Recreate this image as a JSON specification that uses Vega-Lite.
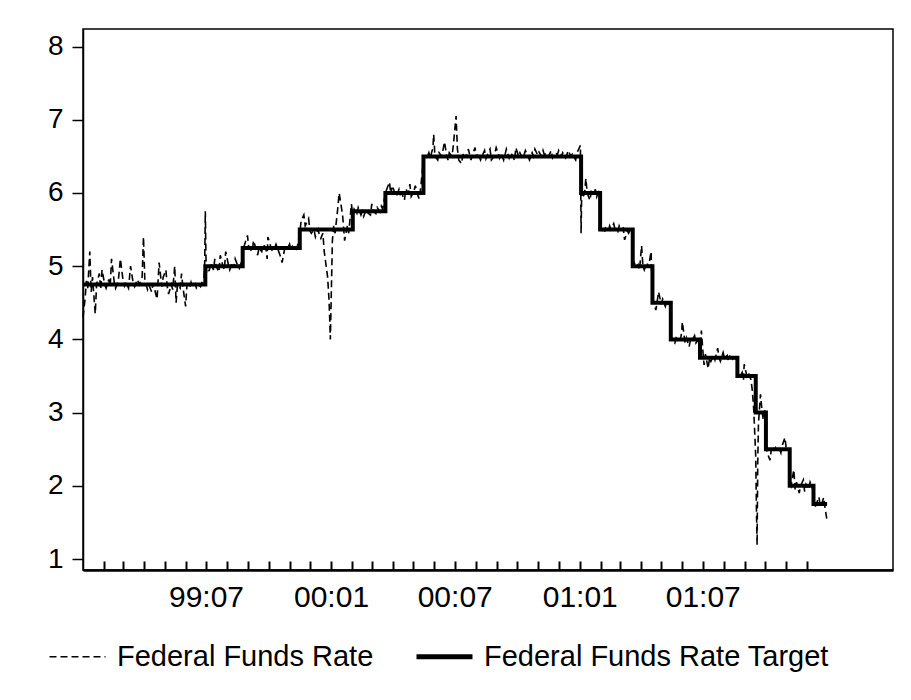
{
  "$schema": "https://vega.github.io/schema/vega-lite/v6.json",
  "autosize": {"type": "none"},
  "padding": {"left": 83, "top": 29, "right": 18, "bottom": 130},
  "width": 810,
  "height": 541,
  "background": "white",
  "config": {
    "font": "Liberation Sans",
    "view": {"stroke": "black", "strokeWidth": 1.5},
    "axis": {"grid": false, "title": null, "labelColor": "black", "domainColor": "black", "tickColor": "black", "labelFont": "Liberation Sans"}
  },
  "datasets": {
    "ffr": [
      {"date": "1999-01-01", "rate": 4.30},
      {"date": "1999-01-04", "rate": 4.55},
      {"date": "1999-01-06", "rate": 4.80},
      {"date": "1999-01-08", "rate": 4.70},
      {"date": "1999-01-11", "rate": 5.20},
      {"date": "1999-01-13", "rate": 4.65},
      {"date": "1999-01-15", "rate": 4.85},
      {"date": "1999-01-19", "rate": 4.35},
      {"date": "1999-01-21", "rate": 4.75},
      {"date": "1999-01-25", "rate": 4.90},
      {"date": "1999-01-27", "rate": 4.68},
      {"date": "1999-01-29", "rate": 4.95},
      {"date": "1999-02-02", "rate": 4.75},
      {"date": "1999-02-04", "rate": 4.70},
      {"date": "1999-02-08", "rate": 4.82},
      {"date": "1999-02-10", "rate": 4.72},
      {"date": "1999-02-12", "rate": 5.10},
      {"date": "1999-02-16", "rate": 4.78},
      {"date": "1999-02-18", "rate": 4.70},
      {"date": "1999-02-22", "rate": 4.80},
      {"date": "1999-02-25", "rate": 5.10},
      {"date": "1999-03-01", "rate": 4.80},
      {"date": "1999-03-03", "rate": 4.73},
      {"date": "1999-03-05", "rate": 4.78},
      {"date": "1999-03-09", "rate": 4.70},
      {"date": "1999-03-12", "rate": 5.00},
      {"date": "1999-03-16", "rate": 4.76},
      {"date": "1999-03-18", "rate": 4.72},
      {"date": "1999-03-22", "rate": 4.82},
      {"date": "1999-03-25", "rate": 4.75},
      {"date": "1999-03-29", "rate": 4.85},
      {"date": "1999-03-31", "rate": 5.40},
      {"date": "1999-04-02", "rate": 4.80},
      {"date": "1999-04-06", "rate": 4.68},
      {"date": "1999-04-08", "rate": 4.74},
      {"date": "1999-04-12", "rate": 4.65},
      {"date": "1999-04-14", "rate": 4.76},
      {"date": "1999-04-16", "rate": 4.70},
      {"date": "1999-04-20", "rate": 4.55},
      {"date": "1999-04-23", "rate": 5.05},
      {"date": "1999-04-27", "rate": 4.72},
      {"date": "1999-04-29", "rate": 4.85},
      {"date": "1999-05-03", "rate": 4.95},
      {"date": "1999-05-05", "rate": 4.72},
      {"date": "1999-05-07", "rate": 4.62},
      {"date": "1999-05-11", "rate": 4.75},
      {"date": "1999-05-13", "rate": 4.68},
      {"date": "1999-05-16", "rate": 5.00},
      {"date": "1999-05-18", "rate": 4.50},
      {"date": "1999-05-20", "rate": 4.75},
      {"date": "1999-05-24", "rate": 4.70},
      {"date": "1999-05-26", "rate": 4.90},
      {"date": "1999-05-28", "rate": 4.72},
      {"date": "1999-06-01", "rate": 4.45},
      {"date": "1999-06-03", "rate": 4.75},
      {"date": "1999-06-07", "rate": 4.70},
      {"date": "1999-06-09", "rate": 4.78},
      {"date": "1999-06-11", "rate": 4.72},
      {"date": "1999-06-15", "rate": 4.76},
      {"date": "1999-06-17", "rate": 4.70},
      {"date": "1999-06-21", "rate": 4.74},
      {"date": "1999-06-23", "rate": 4.72},
      {"date": "1999-06-25", "rate": 4.78},
      {"date": "1999-06-28", "rate": 4.85},
      {"date": "1999-06-29", "rate": 4.95},
      {"date": "1999-06-30", "rate": 5.75},
      {"date": "1999-07-01", "rate": 5.10},
      {"date": "1999-07-02", "rate": 4.90},
      {"date": "1999-07-06", "rate": 4.95},
      {"date": "1999-07-08", "rate": 5.05},
      {"date": "1999-07-12", "rate": 4.95},
      {"date": "1999-07-14", "rate": 5.10},
      {"date": "1999-07-16", "rate": 5.00},
      {"date": "1999-07-20", "rate": 4.92},
      {"date": "1999-07-22", "rate": 5.15},
      {"date": "1999-07-26", "rate": 5.00},
      {"date": "1999-07-28", "rate": 4.95},
      {"date": "1999-07-30", "rate": 5.20},
      {"date": "1999-08-03", "rate": 5.02},
      {"date": "1999-08-05", "rate": 4.95},
      {"date": "1999-08-09", "rate": 5.05},
      {"date": "1999-08-11", "rate": 4.98},
      {"date": "1999-08-13", "rate": 5.10},
      {"date": "1999-08-17", "rate": 5.00},
      {"date": "1999-08-19", "rate": 4.97},
      {"date": "1999-08-23", "rate": 5.08},
      {"date": "1999-08-25", "rate": 5.25},
      {"date": "1999-08-27", "rate": 5.30},
      {"date": "1999-08-31", "rate": 5.42},
      {"date": "1999-09-02", "rate": 5.25},
      {"date": "1999-09-07", "rate": 5.20},
      {"date": "1999-09-09", "rate": 5.35},
      {"date": "1999-09-13", "rate": 5.22},
      {"date": "1999-09-15", "rate": 5.15},
      {"date": "1999-09-17", "rate": 5.25},
      {"date": "1999-09-21", "rate": 5.20},
      {"date": "1999-09-23", "rate": 5.30},
      {"date": "1999-09-27", "rate": 5.25},
      {"date": "1999-09-29", "rate": 5.10},
      {"date": "1999-09-30", "rate": 5.40},
      {"date": "1999-10-04", "rate": 5.28},
      {"date": "1999-10-06", "rate": 5.22},
      {"date": "1999-10-08", "rate": 5.20},
      {"date": "1999-10-12", "rate": 5.30},
      {"date": "1999-10-14", "rate": 5.25},
      {"date": "1999-10-18", "rate": 5.15},
      {"date": "1999-10-21", "rate": 5.05},
      {"date": "1999-10-25", "rate": 5.25},
      {"date": "1999-10-28", "rate": 5.22},
      {"date": "1999-11-01", "rate": 5.30},
      {"date": "1999-11-03", "rate": 5.22},
      {"date": "1999-11-05", "rate": 5.27},
      {"date": "1999-11-09", "rate": 5.20},
      {"date": "1999-11-12", "rate": 5.25},
      {"date": "1999-11-16", "rate": 5.45},
      {"date": "1999-11-18", "rate": 5.62},
      {"date": "1999-11-22", "rate": 5.70},
      {"date": "1999-11-24", "rate": 5.55},
      {"date": "1999-11-29", "rate": 5.65},
      {"date": "1999-12-01", "rate": 5.48},
      {"date": "1999-12-03", "rate": 5.45},
      {"date": "1999-12-07", "rate": 5.50},
      {"date": "1999-12-09", "rate": 5.40},
      {"date": "1999-12-13", "rate": 5.50},
      {"date": "1999-12-15", "rate": 5.42},
      {"date": "1999-12-17", "rate": 5.38},
      {"date": "1999-12-20", "rate": 5.45},
      {"date": "1999-12-22", "rate": 5.20},
      {"date": "1999-12-27", "rate": 4.85},
      {"date": "1999-12-29", "rate": 4.55},
      {"date": "1999-12-30", "rate": 4.30},
      {"date": "1999-12-31", "rate": 4.00},
      {"date": "2000-01-03", "rate": 5.35},
      {"date": "2000-01-05", "rate": 5.55},
      {"date": "2000-01-07", "rate": 5.45},
      {"date": "2000-01-11", "rate": 5.80},
      {"date": "2000-01-13", "rate": 6.00},
      {"date": "2000-01-18", "rate": 5.70},
      {"date": "2000-01-21", "rate": 5.35},
      {"date": "2000-01-25", "rate": 5.55},
      {"date": "2000-01-27", "rate": 5.45},
      {"date": "2000-01-31", "rate": 5.85},
      {"date": "2000-02-02", "rate": 5.70},
      {"date": "2000-02-04", "rate": 5.78},
      {"date": "2000-02-08", "rate": 5.72},
      {"date": "2000-02-10", "rate": 5.80},
      {"date": "2000-02-14", "rate": 5.70},
      {"date": "2000-02-16", "rate": 5.75},
      {"date": "2000-02-18", "rate": 5.68},
      {"date": "2000-02-22", "rate": 5.78},
      {"date": "2000-02-24", "rate": 5.73},
      {"date": "2000-02-28", "rate": 5.70},
      {"date": "2000-03-01", "rate": 5.85},
      {"date": "2000-03-03", "rate": 5.76},
      {"date": "2000-03-07", "rate": 5.72},
      {"date": "2000-03-09", "rate": 5.80},
      {"date": "2000-03-13", "rate": 5.74},
      {"date": "2000-03-15", "rate": 5.82},
      {"date": "2000-03-17", "rate": 5.78},
      {"date": "2000-03-21", "rate": 6.00},
      {"date": "2000-03-23", "rate": 6.05},
      {"date": "2000-03-27", "rate": 6.15},
      {"date": "2000-03-29", "rate": 5.98},
      {"date": "2000-03-31", "rate": 6.10},
      {"date": "2000-04-04", "rate": 6.00},
      {"date": "2000-04-06", "rate": 5.95},
      {"date": "2000-04-10", "rate": 6.05},
      {"date": "2000-04-12", "rate": 5.98},
      {"date": "2000-04-14", "rate": 6.00},
      {"date": "2000-04-18", "rate": 5.90},
      {"date": "2000-04-20", "rate": 6.05},
      {"date": "2000-04-24", "rate": 6.00},
      {"date": "2000-04-26", "rate": 6.12},
      {"date": "2000-04-28", "rate": 5.95},
      {"date": "2000-05-02", "rate": 6.02},
      {"date": "2000-05-04", "rate": 6.10},
      {"date": "2000-05-08", "rate": 5.96},
      {"date": "2000-05-10", "rate": 5.92},
      {"date": "2000-05-12", "rate": 6.08},
      {"date": "2000-05-16", "rate": 6.45},
      {"date": "2000-05-18", "rate": 6.52},
      {"date": "2000-05-22", "rate": 6.50},
      {"date": "2000-05-24", "rate": 6.55},
      {"date": "2000-05-26", "rate": 6.48},
      {"date": "2000-05-30", "rate": 6.62},
      {"date": "2000-05-31", "rate": 6.80},
      {"date": "2000-06-02", "rate": 6.50},
      {"date": "2000-06-06", "rate": 6.45},
      {"date": "2000-06-08", "rate": 6.55},
      {"date": "2000-06-12", "rate": 6.50},
      {"date": "2000-06-16", "rate": 6.70},
      {"date": "2000-06-19", "rate": 6.52},
      {"date": "2000-06-21", "rate": 6.45},
      {"date": "2000-06-23", "rate": 6.55},
      {"date": "2000-06-27", "rate": 6.50},
      {"date": "2000-06-29", "rate": 6.65},
      {"date": "2000-07-03", "rate": 7.05},
      {"date": "2000-07-05", "rate": 6.60},
      {"date": "2000-07-07", "rate": 6.45},
      {"date": "2000-07-11", "rate": 6.40},
      {"date": "2000-07-13", "rate": 6.52},
      {"date": "2000-07-17", "rate": 6.55},
      {"date": "2000-07-19", "rate": 6.48},
      {"date": "2000-07-21", "rate": 6.60},
      {"date": "2000-07-25", "rate": 6.45},
      {"date": "2000-07-27", "rate": 6.52},
      {"date": "2000-07-31", "rate": 6.62},
      {"date": "2000-08-02", "rate": 6.48},
      {"date": "2000-08-04", "rate": 6.55},
      {"date": "2000-08-08", "rate": 6.45},
      {"date": "2000-08-10", "rate": 6.50},
      {"date": "2000-08-14", "rate": 6.58},
      {"date": "2000-08-16", "rate": 6.47},
      {"date": "2000-08-18", "rate": 6.52},
      {"date": "2000-08-22", "rate": 6.60},
      {"date": "2000-08-24", "rate": 6.45},
      {"date": "2000-08-28", "rate": 6.50},
      {"date": "2000-08-31", "rate": 6.62},
      {"date": "2000-09-05", "rate": 6.48},
      {"date": "2000-09-07", "rate": 6.55},
      {"date": "2000-09-11", "rate": 6.45},
      {"date": "2000-09-13", "rate": 6.52},
      {"date": "2000-09-15", "rate": 6.60},
      {"date": "2000-09-19", "rate": 6.48},
      {"date": "2000-09-21", "rate": 6.55},
      {"date": "2000-09-25", "rate": 6.50},
      {"date": "2000-09-27", "rate": 6.44},
      {"date": "2000-09-29", "rate": 6.62},
      {"date": "2000-10-03", "rate": 6.50},
      {"date": "2000-10-05", "rate": 6.55},
      {"date": "2000-10-09", "rate": 6.47},
      {"date": "2000-10-11", "rate": 6.52},
      {"date": "2000-10-13", "rate": 6.58},
      {"date": "2000-10-17", "rate": 6.50},
      {"date": "2000-10-19", "rate": 6.45},
      {"date": "2000-10-23", "rate": 6.55},
      {"date": "2000-10-25", "rate": 6.50},
      {"date": "2000-10-27", "rate": 6.60},
      {"date": "2000-10-31", "rate": 6.52},
      {"date": "2000-11-02", "rate": 6.56},
      {"date": "2000-11-06", "rate": 6.50},
      {"date": "2000-11-08", "rate": 6.58},
      {"date": "2000-11-10", "rate": 6.52},
      {"date": "2000-11-14", "rate": 6.55},
      {"date": "2000-11-16", "rate": 6.50},
      {"date": "2000-11-20", "rate": 6.58},
      {"date": "2000-11-22", "rate": 6.48},
      {"date": "2000-11-27", "rate": 6.55},
      {"date": "2000-11-29", "rate": 6.52},
      {"date": "2000-12-01", "rate": 6.58},
      {"date": "2000-12-05", "rate": 6.50},
      {"date": "2000-12-07", "rate": 6.55},
      {"date": "2000-12-11", "rate": 6.48},
      {"date": "2000-12-13", "rate": 6.52},
      {"date": "2000-12-15", "rate": 6.58},
      {"date": "2000-12-19", "rate": 6.50},
      {"date": "2000-12-21", "rate": 6.53},
      {"date": "2000-12-26", "rate": 6.45},
      {"date": "2000-12-28", "rate": 6.55},
      {"date": "2001-01-02", "rate": 6.65},
      {"date": "2001-01-03", "rate": 5.45},
      {"date": "2001-01-04", "rate": 6.10},
      {"date": "2001-01-05", "rate": 5.95},
      {"date": "2001-01-08", "rate": 5.98},
      {"date": "2001-01-10", "rate": 6.20},
      {"date": "2001-01-12", "rate": 6.00},
      {"date": "2001-01-16", "rate": 5.90},
      {"date": "2001-01-18", "rate": 6.02},
      {"date": "2001-01-22", "rate": 5.98},
      {"date": "2001-01-24", "rate": 6.05},
      {"date": "2001-01-26", "rate": 5.95},
      {"date": "2001-01-30", "rate": 6.05},
      {"date": "2001-01-31", "rate": 5.55},
      {"date": "2001-02-02", "rate": 5.50},
      {"date": "2001-02-06", "rate": 5.45},
      {"date": "2001-02-08", "rate": 5.52},
      {"date": "2001-02-12", "rate": 5.48},
      {"date": "2001-02-14", "rate": 5.55},
      {"date": "2001-02-16", "rate": 5.50},
      {"date": "2001-02-20", "rate": 5.58},
      {"date": "2001-02-22", "rate": 5.50},
      {"date": "2001-02-26", "rate": 5.47},
      {"date": "2001-02-28", "rate": 5.55},
      {"date": "2001-03-02", "rate": 5.50},
      {"date": "2001-03-06", "rate": 5.52},
      {"date": "2001-03-08", "rate": 5.36},
      {"date": "2001-03-12", "rate": 5.48},
      {"date": "2001-03-14", "rate": 5.45},
      {"date": "2001-03-16", "rate": 5.50},
      {"date": "2001-03-19", "rate": 5.48},
      {"date": "2001-03-20", "rate": 5.00},
      {"date": "2001-03-22", "rate": 5.05},
      {"date": "2001-03-26", "rate": 4.98},
      {"date": "2001-03-28", "rate": 5.02},
      {"date": "2001-03-30", "rate": 4.95},
      {"date": "2001-04-02", "rate": 5.28},
      {"date": "2001-04-04", "rate": 5.00},
      {"date": "2001-04-06", "rate": 4.95},
      {"date": "2001-04-10", "rate": 5.05},
      {"date": "2001-04-12", "rate": 4.98},
      {"date": "2001-04-16", "rate": 5.20},
      {"date": "2001-04-18", "rate": 4.55},
      {"date": "2001-04-20", "rate": 4.50},
      {"date": "2001-04-23", "rate": 4.40},
      {"date": "2001-04-25", "rate": 4.52},
      {"date": "2001-04-27", "rate": 4.65},
      {"date": "2001-05-01", "rate": 4.48},
      {"date": "2001-05-03", "rate": 4.55},
      {"date": "2001-05-07", "rate": 4.45},
      {"date": "2001-05-09", "rate": 4.52},
      {"date": "2001-05-11", "rate": 4.48},
      {"date": "2001-05-14", "rate": 4.50},
      {"date": "2001-05-15", "rate": 4.05},
      {"date": "2001-05-17", "rate": 4.00},
      {"date": "2001-05-21", "rate": 3.95},
      {"date": "2001-05-23", "rate": 4.02},
      {"date": "2001-05-25", "rate": 4.00},
      {"date": "2001-05-29", "rate": 3.98},
      {"date": "2001-05-31", "rate": 4.10},
      {"date": "2001-06-01", "rate": 4.24},
      {"date": "2001-06-05", "rate": 3.95},
      {"date": "2001-06-07", "rate": 4.02},
      {"date": "2001-06-11", "rate": 3.90},
      {"date": "2001-06-13", "rate": 4.00},
      {"date": "2001-06-15", "rate": 3.98},
      {"date": "2001-06-19", "rate": 4.05},
      {"date": "2001-06-21", "rate": 3.95},
      {"date": "2001-06-25", "rate": 4.00},
      {"date": "2001-06-27", "rate": 3.85},
      {"date": "2001-06-29", "rate": 4.12},
      {"date": "2001-07-02", "rate": 3.75},
      {"date": "2001-07-03", "rate": 3.65},
      {"date": "2001-07-05", "rate": 3.80},
      {"date": "2001-07-09", "rate": 3.60},
      {"date": "2001-07-11", "rate": 3.75},
      {"date": "2001-07-13", "rate": 3.70},
      {"date": "2001-07-17", "rate": 3.78},
      {"date": "2001-07-19", "rate": 3.72},
      {"date": "2001-07-23", "rate": 3.88},
      {"date": "2001-07-25", "rate": 3.75},
      {"date": "2001-07-27", "rate": 3.70},
      {"date": "2001-07-31", "rate": 3.82},
      {"date": "2001-08-02", "rate": 3.74},
      {"date": "2001-08-06", "rate": 3.78},
      {"date": "2001-08-08", "rate": 3.70},
      {"date": "2001-08-10", "rate": 3.77},
      {"date": "2001-08-14", "rate": 3.73},
      {"date": "2001-08-16", "rate": 3.76},
      {"date": "2001-08-20", "rate": 3.72},
      {"date": "2001-08-22", "rate": 3.50},
      {"date": "2001-08-24", "rate": 3.48},
      {"date": "2001-08-28", "rate": 3.55},
      {"date": "2001-08-30", "rate": 3.45},
      {"date": "2001-08-31", "rate": 3.66},
      {"date": "2001-09-04", "rate": 3.50},
      {"date": "2001-09-06", "rate": 3.55},
      {"date": "2001-09-10", "rate": 3.45},
      {"date": "2001-09-12", "rate": 3.30},
      {"date": "2001-09-14", "rate": 3.05},
      {"date": "2001-09-17", "rate": 2.40},
      {"date": "2001-09-18", "rate": 1.70},
      {"date": "2001-09-19", "rate": 1.19},
      {"date": "2001-09-20", "rate": 2.35},
      {"date": "2001-09-21", "rate": 2.85},
      {"date": "2001-09-24", "rate": 3.25},
      {"date": "2001-09-26", "rate": 3.05},
      {"date": "2001-09-28", "rate": 2.90},
      {"date": "2001-10-01", "rate": 3.05},
      {"date": "2001-10-02", "rate": 2.55},
      {"date": "2001-10-04", "rate": 2.45},
      {"date": "2001-10-08", "rate": 2.35},
      {"date": "2001-10-10", "rate": 2.50},
      {"date": "2001-10-12", "rate": 2.45},
      {"date": "2001-10-16", "rate": 2.52},
      {"date": "2001-10-18", "rate": 2.48},
      {"date": "2001-10-22", "rate": 2.50},
      {"date": "2001-10-24", "rate": 2.45},
      {"date": "2001-10-26", "rate": 2.55},
      {"date": "2001-10-30", "rate": 2.66},
      {"date": "2001-11-01", "rate": 2.50},
      {"date": "2001-11-05", "rate": 2.48},
      {"date": "2001-11-06", "rate": 2.05},
      {"date": "2001-11-08", "rate": 2.00},
      {"date": "2001-11-12", "rate": 2.22},
      {"date": "2001-11-14", "rate": 1.95},
      {"date": "2001-11-16", "rate": 2.05},
      {"date": "2001-11-20", "rate": 1.90},
      {"date": "2001-11-22", "rate": 2.00},
      {"date": "2001-11-26", "rate": 2.08},
      {"date": "2001-11-28", "rate": 1.92},
      {"date": "2001-11-30", "rate": 2.02},
      {"date": "2001-12-04", "rate": 1.95},
      {"date": "2001-12-06", "rate": 2.05},
      {"date": "2001-12-10", "rate": 1.95},
      {"date": "2001-12-11", "rate": 1.80},
      {"date": "2001-12-13", "rate": 1.70},
      {"date": "2001-12-17", "rate": 1.80},
      {"date": "2001-12-19", "rate": 1.85},
      {"date": "2001-12-21", "rate": 1.72},
      {"date": "2001-12-24", "rate": 1.78},
      {"date": "2001-12-26", "rate": 1.84},
      {"date": "2001-12-28", "rate": 1.70},
      {"date": "2001-12-31", "rate": 1.52}
    ],
    "target": [
      {"date": "1999-01-01", "rate": 4.75},
      {"date": "1999-06-30", "rate": 5.00},
      {"date": "1999-08-24", "rate": 5.25},
      {"date": "1999-11-16", "rate": 5.50},
      {"date": "2000-02-02", "rate": 5.75},
      {"date": "2000-03-21", "rate": 6.00},
      {"date": "2000-05-16", "rate": 6.50},
      {"date": "2001-01-03", "rate": 6.00},
      {"date": "2001-01-31", "rate": 5.50},
      {"date": "2001-03-20", "rate": 5.00},
      {"date": "2001-04-18", "rate": 4.50},
      {"date": "2001-05-15", "rate": 4.00},
      {"date": "2001-06-27", "rate": 3.75},
      {"date": "2001-08-21", "rate": 3.50},
      {"date": "2001-09-17", "rate": 3.00},
      {"date": "2001-10-02", "rate": 2.50},
      {"date": "2001-11-06", "rate": 2.00},
      {"date": "2001-12-11", "rate": 1.75},
      {"date": "2001-12-31", "rate": 1.75}
    ]
  },
  "encoding": {
    "x": {
      "field": "date",
      "type": "temporal",
      "scale": {"type": "utc", "domain": [{"year": 1999, "month": 1, "date": 1, "utc": true}, {"year": 2002, "month": 4, "date": 7, "utc": true}]},
      "axis": {
        "values": [
          {"year": 1999, "month": 2, "date": 1, "utc": true}, {"year": 1999, "month": 3, "date": 1, "utc": true}, {"year": 1999, "month": 4, "date": 1, "utc": true},
          {"year": 1999, "month": 5, "date": 1, "utc": true}, {"year": 1999, "month": 6, "date": 1, "utc": true}, {"year": 1999, "month": 7, "date": 1, "utc": true},
          {"year": 1999, "month": 8, "date": 1, "utc": true}, {"year": 1999, "month": 9, "date": 1, "utc": true}, {"year": 1999, "month": 10, "date": 1, "utc": true},
          {"year": 1999, "month": 11, "date": 1, "utc": true}, {"year": 1999, "month": 12, "date": 1, "utc": true}, {"year": 2000, "month": 1, "date": 1, "utc": true},
          {"year": 2000, "month": 2, "date": 1, "utc": true}, {"year": 2000, "month": 3, "date": 1, "utc": true}, {"year": 2000, "month": 4, "date": 1, "utc": true},
          {"year": 2000, "month": 5, "date": 1, "utc": true}, {"year": 2000, "month": 6, "date": 1, "utc": true}, {"year": 2000, "month": 7, "date": 1, "utc": true},
          {"year": 2000, "month": 8, "date": 1, "utc": true}, {"year": 2000, "month": 9, "date": 1, "utc": true}, {"year": 2000, "month": 10, "date": 1, "utc": true},
          {"year": 2000, "month": 11, "date": 1, "utc": true}, {"year": 2000, "month": 12, "date": 1, "utc": true}, {"year": 2001, "month": 1, "date": 1, "utc": true},
          {"year": 2001, "month": 2, "date": 1, "utc": true}, {"year": 2001, "month": 3, "date": 1, "utc": true}, {"year": 2001, "month": 4, "date": 1, "utc": true},
          {"year": 2001, "month": 5, "date": 1, "utc": true}, {"year": 2001, "month": 6, "date": 1, "utc": true}, {"year": 2001, "month": 7, "date": 1, "utc": true},
          {"year": 2001, "month": 8, "date": 1, "utc": true}, {"year": 2001, "month": 9, "date": 1, "utc": true}, {"year": 2001, "month": 10, "date": 1, "utc": true},
          {"year": 2001, "month": 11, "date": 1, "utc": true}, {"year": 2001, "month": 12, "date": 1, "utc": true}
        ],
        "labelExpr": "(utcFormat(datum.value, '%m') == '01' || utcFormat(datum.value, '%m') == '07') ? utcFormat(datum.value, '%y:%m') : ''",
        "labelFontSize": 30,
        "labelPadding": 21,
        "labelOverlap": false,
        "labelFlush": false,
        "tickSize": -9,
        "tickWidth": 2,
        "domainWidth": 2.5
      }
    },
    "y": {
      "field": "rate",
      "type": "quantitative",
      "scale": {"domain": [0.85, 8.24], "nice": false, "zero": false},
      "axis": {
        "values": [1, 2, 3, 4, 5, 6, 7, 8],
        "labelFontSize": 28,
        "labelPadding": 9,
        "tickSize": 11,
        "tickWidth": 1.5,
        "domainWidth": 1.5
      }
    }
  },
  "layer": [
    {
      "data": {"name": "ffr"},
      "mark": {"type": "line", "color": "black", "strokeWidth": 1.6},
      "encoding": {
        "strokeDash": {
          "datum": "Federal Funds Rate",
          "type": "nominal",
          "scale": {"domain": ["Federal Funds Rate", "Federal Funds Rate Target"], "range": [[7, 4], [1, 0]]},
          "legend": {
            "title": null,
            "orient": "none",
            "direction": "horizontal",
            "legendX": -20,
            "legendY": 613,
            "symbolType": "stroke",
            "symbolSize": 3136,
            "symbolStrokeColor": "black",
            "labelFontSize": 29,
            "labelFont": "Liberation Sans",
            "labelColor": "black",
            "labelOffset": 25,
            "labelLimit": 500,
            "columnPadding": 32,
            "encode": {"symbols": {"update": {"strokeWidth": {"signal": "datum.value === 'Federal Funds Rate' ? 1.3 : 5"}}}}
          }
        }
      }
    },
    {
      "data": {"name": "target"},
      "mark": {"type": "line", "color": "black", "strokeWidth": 4, "interpolate": "step-after"},
      "encoding": {
        "strokeDash": {"datum": "Federal Funds Rate Target", "type": "nominal"}
      }
    }
  ]
}
